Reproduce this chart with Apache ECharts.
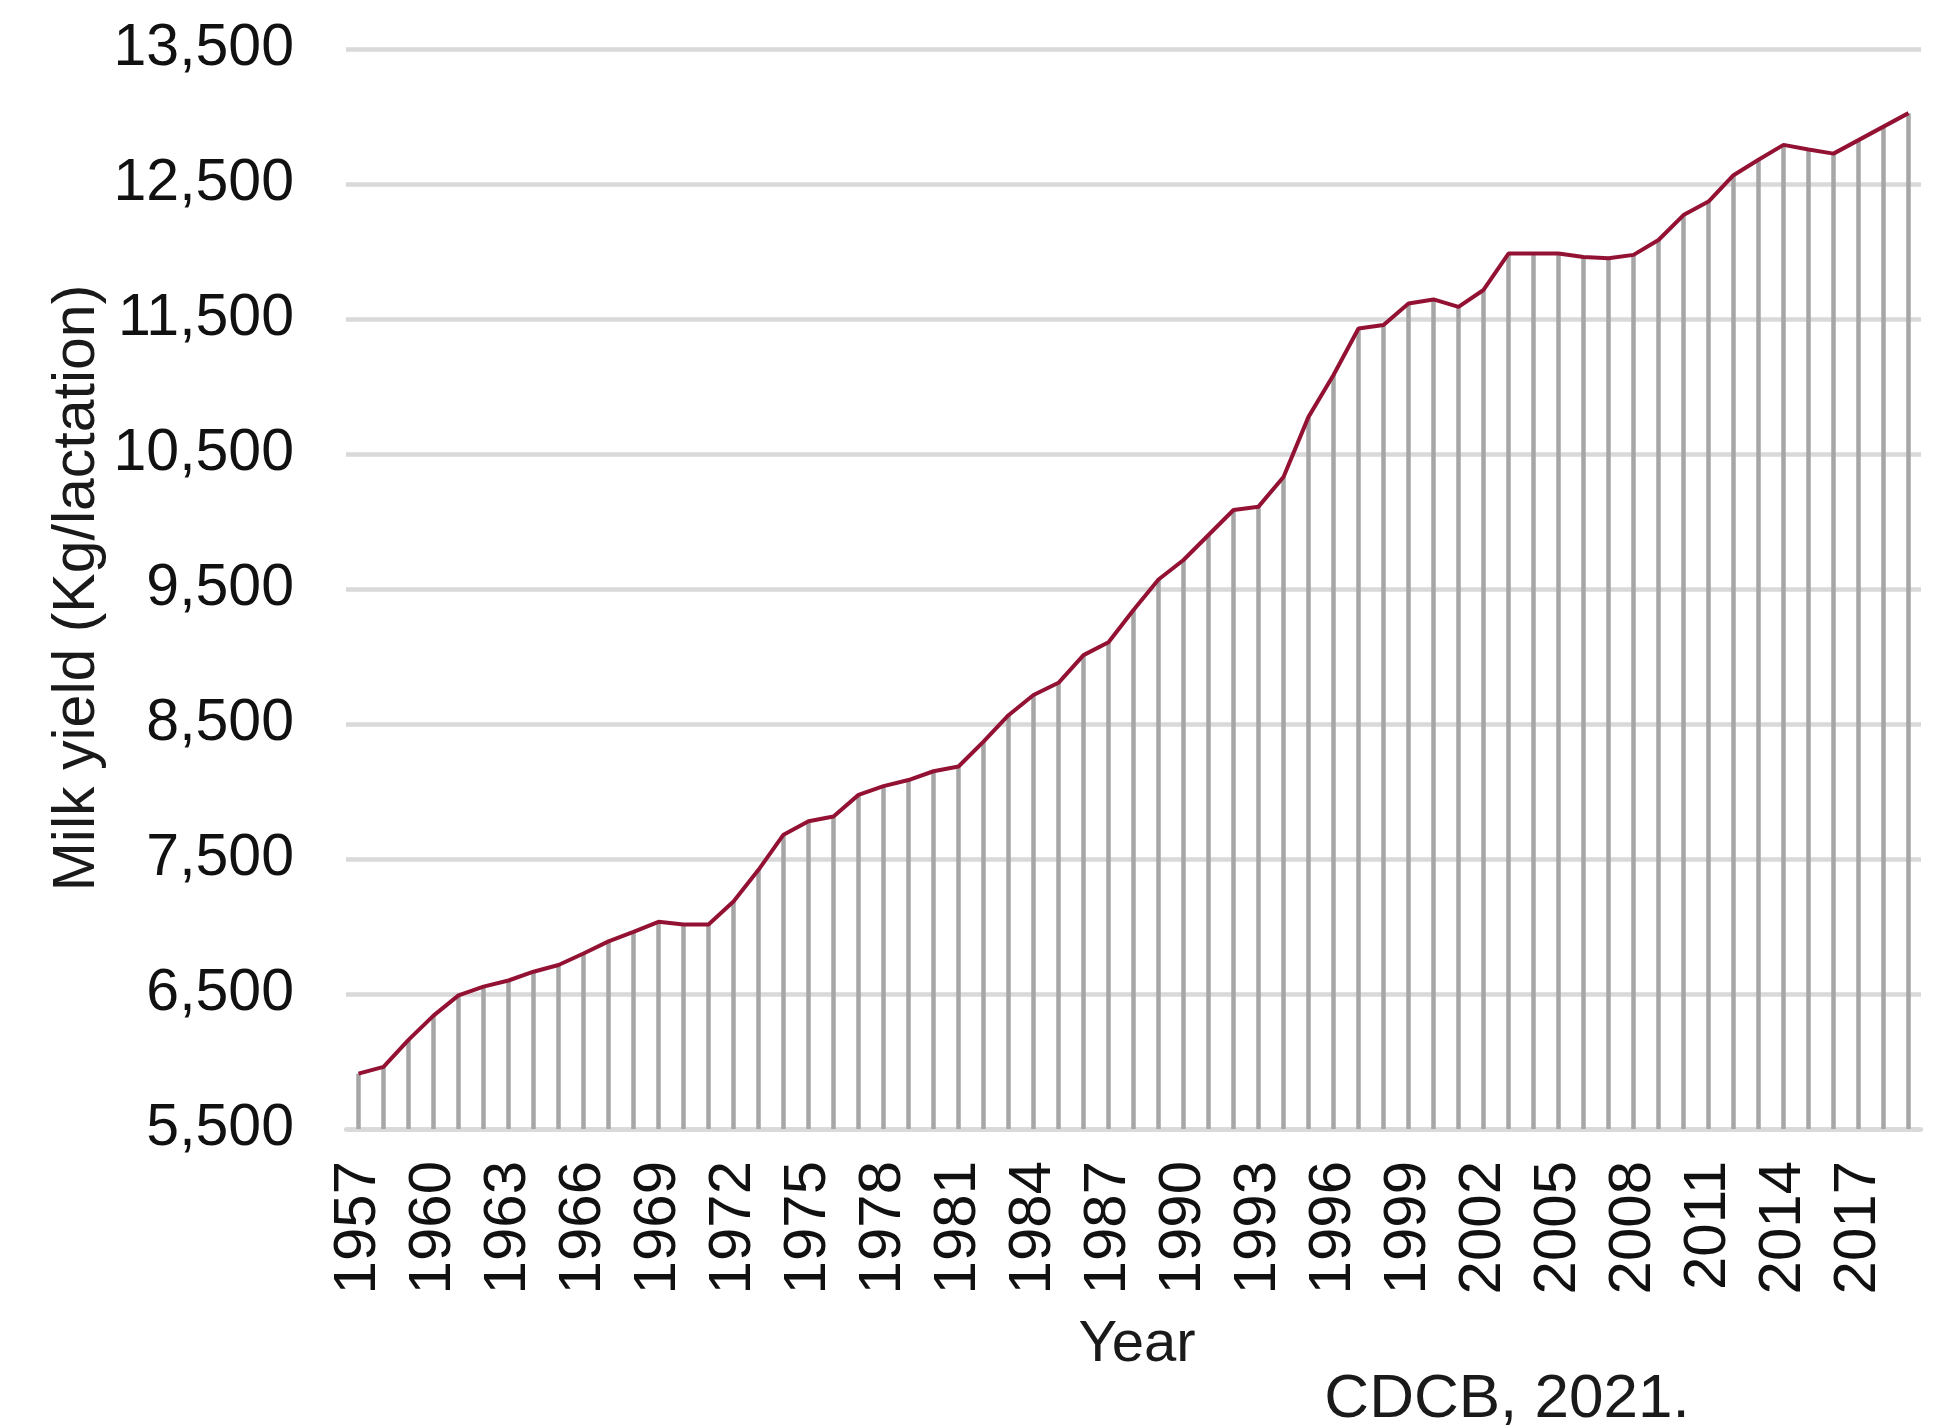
<!DOCTYPE html>
<html>
<head>
<meta charset="utf-8">
<script src="https://cdn.jsdelivr.net/npm/echarts@6/dist/echarts.min.js"></script>
<style>
html,body{margin:0;padding:0;background:#fff;}
#chart{width:1941px;height:1428px;}
</style>
</head>
<body>
<div id="chart"></div>
<script>
var years = ['1957','1958','1959','1960','1961','1962','1963','1964','1965','1966',
  '1967','1968','1969','1970','1971','1972','1973','1974','1975','1976',
  '1977','1978','1979','1980','1981','1982','1983','1984','1985','1986',
  '1987','1988','1989','1990','1991','1992','1993','1994','1995','1996',
  '1997','1998','1999','2000','2001','2002','2003','2004','2005','2006',
  '2007','2008','2009','2010','2011','2012','2013','2014','2015','2016',
  '2017','2018','2019'];
var milkYield = [5910,5960,6160,6340,6490,6555,6600,6665,6715,6800,
  6890,6960,7035,7015,7015,7185,7420,7680,7780,7815,
  7975,8040,8085,8150,8185,8370,8565,8715,8805,9010,
  9105,9345,9570,9715,9900,10085,10110,10330,10775,11085,
  11430,11455,11615,11645,11590,11715,11985,11985,11985,11960,
  11950,11975,12085,12270,12370,12565,12680,12790,12755,12725,
  12825,12925,13025];
var yMin = 5500, yMax = 13500, yStep = 1000;
var yTitle = 'Milk yield (Kg/lactation)';
var xTitle = 'Year';
var sourceNote = 'CDCB, 2021.';

var FONT = '"Liberation Sans", Arial, sans-serif';
var chart = echarts.init(document.getElementById('chart'), null, {renderer:'canvas'});
chart.setOption({
  animation: false,
  backgroundColor: '#ffffff',
  grid: {left: 346, right: 20, top: 49, bottom: 299, containLabel: false},
  xAxis: {
    type: 'category',
    data: years,
    boundaryGap: true,
    axisLine: {show: true, lineStyle: {color: '#D9D9D9', width: 4.5}},
    axisTick: {show: false},
    axisLabel: {
      interval: 2, rotate: 90, margin: 32,
      fontFamily: FONT, fontSize: 60, color: '#111'
    },
    splitLine: {show: false}
  },
  yAxis: {
    type: 'value',
    min: yMin, max: yMax, interval: yStep,
    axisLine: {show: false},
    axisTick: {show: false},
    axisLabel: {
      margin: 52, fontFamily: FONT, fontSize: 59, color: '#111',
      formatter: function (v) { return v.toString().replace(/\B(?=(\d{3})+(?!\d))/g, ','); }
    },
    splitLine: {show: true, lineStyle: {color: '#D9D9D9', width: 4.5}}
  },
  series: [
    {
      type: 'bar',
      data: milkYield,
      barWidth: 4.5,
      clip: true,
      silent: true,
      itemStyle: {color: '#A6A6A6'},
      z: 2
    },
    {
      type: 'line',
      data: milkYield,
      showSymbol: false,
      symbol: 'none',
      smooth: false,
      lineStyle: {color: '#931234', width: 4},
      z: 3
    }
  ],
  graphic: [
    {
      type: 'text', x: 78, y: 588, rotation: Math.PI / 2,
      style: {text: yTitle, font: '59px ' + FONT, fill: '#1a1a1a', textAlign: 'center', textVerticalAlign: 'middle'}
    },
    {
      type: 'text', x: 1137, y: 1345,
      style: {text: xTitle, font: '58px ' + FONT, fill: '#1a1a1a', textAlign: 'center', textVerticalAlign: 'middle'}
    },
    {
      type: 'text', x: 1507, y: 1400,
      style: {text: sourceNote, font: '62px ' + FONT, fill: '#1a1a1a', textAlign: 'center', textVerticalAlign: 'middle'}
    }
  ]
});
</script>
</body>
</html>
